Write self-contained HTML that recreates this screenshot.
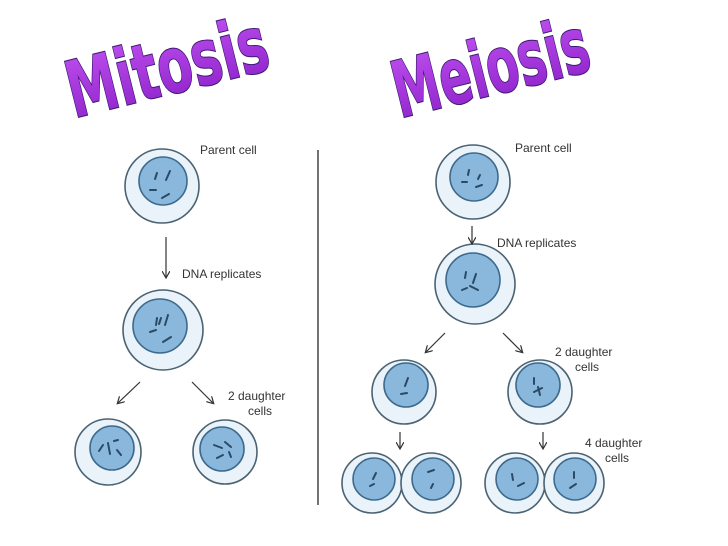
<!DOCTYPE html>
<html><head><meta charset="utf-8"><style>
html,body{margin:0;padding:0;background:#fff;}
svg{display:block}
.l{font-family:"Liberation Sans",sans-serif;font-size:12px;fill:#333}
.t{font-family:"DejaVu Sans","Liberation Sans",sans-serif;font-weight:bold;font-size:78px;stroke:#3a1870;stroke-width:2;paint-order:stroke}
</style></head><body>
<svg width="728" height="546" viewBox="0 0 728 546" xmlns="http://www.w3.org/2000/svg">
<defs>
<linearGradient id="g" x1="0" y1="0" x2="0" y2="1"><stop offset="0" stop-color="#c050f0"/><stop offset="1" stop-color="#8a20c8"/></linearGradient>
<marker id="a" markerWidth="8" markerHeight="8" refX="6" refY="4" orient="auto" markerUnits="userSpaceOnUse"><path d="M0,0 L7,4 L0,8" fill="none" stroke="#333" stroke-width="1.2"/></marker>
</defs>
<text class="t" x="74" y="118" transform="rotate(-14 74 118)" textLength="205" lengthAdjust="spacingAndGlyphs" style="fill:url(#g)">Mitosis</text>
<text class="t" x="400" y="118" transform="rotate(-14 400 118)" textLength="200" lengthAdjust="spacingAndGlyphs" style="fill:url(#g)">Meiosis</text>
<line x1="318" y1="150" x2="318" y2="505" stroke="#444" stroke-width="1.5"/>
<g stroke="#4a6272" stroke-width="1.6">
<circle cx="162" cy="186" r="37" fill="#eaf3fa"/><circle cx="163" cy="181" r="24" fill="#8ab8dc" stroke="#3d6a8c"/>
<circle cx="163" cy="330" r="40" fill="#eaf3fa"/><circle cx="160" cy="326" r="27" fill="#8ab8dc" stroke="#3d6a8c"/>
<circle cx="108" cy="452" r="33" fill="#eaf3fa"/><circle cx="112" cy="448" r="22" fill="#8ab8dc" stroke="#3d6a8c"/>
<circle cx="225" cy="452" r="32" fill="#eaf3fa"/><circle cx="222" cy="449" r="22" fill="#8ab8dc" stroke="#3d6a8c"/>
<circle cx="473" cy="182" r="37" fill="#eaf3fa"/><circle cx="474" cy="177" r="24" fill="#8ab8dc" stroke="#3d6a8c"/>
<circle cx="475" cy="284" r="40" fill="#eaf3fa"/><circle cx="473" cy="280" r="27" fill="#8ab8dc" stroke="#3d6a8c"/>
<circle cx="404" cy="392" r="32" fill="#eaf3fa"/><circle cx="406" cy="385" r="22" fill="#8ab8dc" stroke="#3d6a8c"/>
<circle cx="540" cy="392" r="32" fill="#eaf3fa"/><circle cx="538" cy="385" r="22" fill="#8ab8dc" stroke="#3d6a8c"/>
<circle cx="372" cy="483" r="30" fill="#eaf3fa"/><circle cx="374" cy="479" r="21" fill="#8ab8dc" stroke="#3d6a8c"/>
<circle cx="431" cy="483" r="30" fill="#eaf3fa"/><circle cx="433" cy="479" r="21" fill="#8ab8dc" stroke="#3d6a8c"/>
<circle cx="515" cy="483" r="30" fill="#eaf3fa"/><circle cx="517" cy="479" r="21" fill="#8ab8dc" stroke="#3d6a8c"/>
<circle cx="574" cy="483" r="30" fill="#eaf3fa"/><circle cx="575" cy="479" r="21" fill="#8ab8dc" stroke="#3d6a8c"/>
</g>
<g stroke="#2a4a66" stroke-width="2" stroke-linecap="round">
<path d="M157 173l-2 6M170 171l-4 9M150 190l6 0M162 198l7-4"/>
<path d="M157 318l-1 7M161 318l-2 6M168 315l-3 10M150 332l6-2M163 342l8-5"/>
<path d="M103 445l-4 6M108 443l2 11M114 441l4-1M117 450l4 5"/>
<path d="M214 445l8 3M225 442l6 5M217 458l6-3M229 452l2 5"/>
<path d="M469 170l-1 5M462 182l5 0M476 187l6-2M480 175l-2 4"/>
<path d="M466 272l-1 6M476 274l-3 9M470 286l8 4M462 290l5-2"/>
<path d="M408 378l-3 8M401 394l6-1"/>
<path d="M534 378l0 6M534 392l8-4M538 387l2 8"/>
<path d="M376 473l-3 6M370 486l4-2"/><path d="M428 472l6-2M433 484l-2 4"/>
<path d="M512 474l1 6M518 486l6-3"/><path d="M574 472l0 6M570 488l6-4"/>
</g>
<g stroke="#333" stroke-width="1.2" fill="none" marker-end="url(#a)">
<line x1="166" y1="237" x2="166" y2="277"/>
<line x1="140" y1="382" x2="118" y2="403"/><line x1="192" y1="382" x2="213" y2="403"/>
<line x1="472" y1="226" x2="472" y2="243"/>
<line x1="445" y1="333" x2="426" y2="352"/><line x1="503" y1="333" x2="522" y2="352"/>
<line x1="400" y1="432" x2="400" y2="448"/><line x1="543" y1="432" x2="543" y2="448"/>
</g>
<text class="l" x="200" y="154">Parent cell</text>
<text class="l" x="182" y="278">DNA replicates</text>
<text class="l" x="228" y="400">2 daughter</text>
<text class="l" x="248" y="415">cells</text>
<text class="l" x="515" y="152">Parent cell</text>
<text class="l" x="497" y="247">DNA replicates</text>
<text class="l" x="555" y="356">2 daughter</text>
<text class="l" x="575" y="371">cells</text>
<text class="l" x="585" y="447">4 daughter</text>
<text class="l" x="605" y="462">cells</text>
</svg>
</body></html>
